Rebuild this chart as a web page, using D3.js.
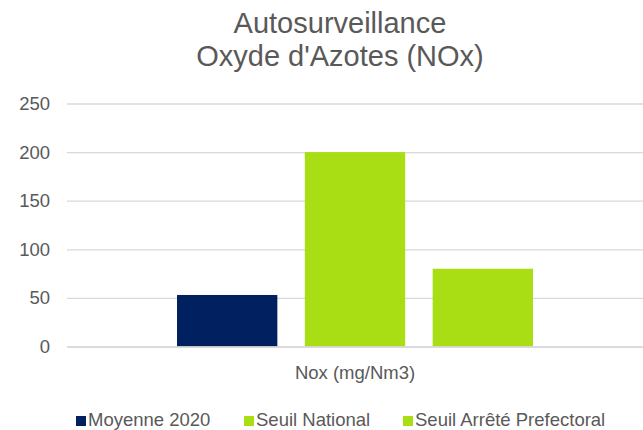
<!DOCTYPE html>
<html>
<head>
<meta charset="utf-8">
<script src="https://cdn.jsdelivr.net/npm/d3@7"></script>
<style>
  body { margin: 0; background: #fff; }
  svg text { font-family: "Liberation Sans", Arial, sans-serif; fill: #595959; }
</style>
</head>
<body>
<svg id="chart"></svg>
<script>
let categories = ["Nox (mg/Nm3)"]
let seriesNames = ["Moyenne 2020", "Seuil National", "Seuil Arrêté Prefectoral"]
let seriesValues = [53, 200, 80]
let seriesColors = ["#002060", "#a9dd14", "#a9dd14"]
let yTicks = [0, 50, 100, 150, 200, 250]
let titleLines = ["Autosurveillance", "Oxyde d'Azotes (NOx)"]

let width = 643
let height = 430
let plotLeft = 67
let plotRight = 643
let plotTop = 103.5
let plotBottom = 346.5

let svg = d3.select("#chart")
    .attr("width", width)
    .attr("height", height)

let xScale = d3.scaleBand()
    .domain(categories)
    .range([plotLeft, plotRight])

let seriesScale = d3.scaleBand()
    .domain(seriesNames)
    .range([xScale.bandwidth() * 0.191, xScale.bandwidth() * 0.809])
    .paddingInner(0.215)

let yScale = d3.scaleLinear()
    .domain([0, 250])
    .range([plotBottom, plotTop])

// title
svg.append("text")
    .attr("text-anchor", "middle")
    .attr("x", 340)
    .attr("y", 33)
    .style("font-size", "29px")
    .selectAll("tspan")
    .data(titleLines)
    .enter()
    .append("tspan")
    .attr("x", 340)
    .attr("dy", (d, i) => i === 0 ? 0 : 33)
    .text(d => d)

// gridlines + y labels
let yAxis = d3.axisLeft(yScale)
    .tickValues(yTicks)
    .tickSize(-(plotRight - plotLeft))
    .tickPadding(17)

let yAxisGroup = svg.append("g")
    .attr("transform", "translate(" + plotLeft + ",0)")
    .call(yAxis)

yAxisGroup.select(".domain").remove()
yAxisGroup.selectAll("line")
    .attr("stroke", "#d9d9d9")
    .attr("stroke-width", 1.3)
yAxisGroup.selectAll("text")
    .style("font-size", "18.5px")
    .style("font-family", "'Liberation Sans', Arial, sans-serif")
    .attr("fill", "#595959")

// bars
let group = svg.selectAll(".category")
    .data(categories)
    .enter()
    .append("g")
    .attr("class", "category")
    .attr("transform", d => "translate(" + xScale(d) + ",0)")

group.selectAll("rect")
    .data(seriesNames.map((name, i) => ({ name: name, value: seriesValues[i], color: seriesColors[i] })))
    .enter()
    .append("rect")
    .attr("x", d => seriesScale(d.name))
    .attr("width", seriesScale.bandwidth())
    .attr("y", d => yScale(d.value))
    .attr("height", d => yScale(0) - yScale(d.value))
    .attr("fill", d => d.color)

// x axis labels
let xAxis = d3.axisBottom(xScale).tickSize(0).tickPadding(0)
let xAxisGroup = svg.append("g")
    .attr("transform", "translate(0," + plotBottom + ")")
    .call(xAxis)
xAxisGroup.select(".domain")
    .attr("stroke", "#d9d9d9")
    .attr("stroke-width", 1.3)
xAxisGroup.selectAll("text")
    .attr("dy", null)
    .attr("y", 32)
    .style("font-size", "18.5px")
    .style("font-family", "'Liberation Sans', Arial, sans-serif")
    .attr("fill", "#595959")

// legend
let legendX = [76, 244, 403]
let legend = svg.selectAll(".legend")
    .data(seriesNames)
    .enter()
    .append("g")
    .attr("class", "legend")
    .attr("transform", (d, i) => "translate(" + legendX[i] + ",416)")

legend.append("rect")
    .attr("width", 10)
    .attr("height", 10)
    .attr("fill", (d, i) => seriesColors[i])

legend.append("text")
    .attr("x", 12)
    .attr("y", 10)
    .style("font-size", "18.5px")
    .text(d => d)
</script>
</body>
</html>
